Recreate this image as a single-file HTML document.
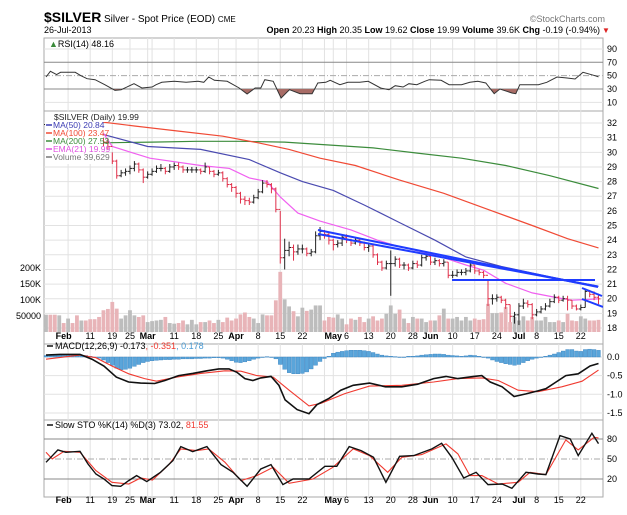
<!DOCTYPE html>
<html><head><meta charset="utf-8"><style>
html,body{margin:0;padding:0;background:#fff;}
svg{display:block;font-family:"Liberation Sans",sans-serif;}
</style></head><body>
<svg id="chart" width="627" height="515" viewBox="0 0 627 515" xmlns="http://www.w3.org/2000/svg">
<g>
<text x="44" y="22" font-size="14" font-weight="bold">$SILVER</text>
<text x="104" y="22" font-size="10">Silver - Spot Price (EOD) <tspan font-size="8">CME</tspan></text>
<text x="605" y="22" font-size="9" fill="#777" text-anchor="end">©StockCharts.com</text>
<text x="44" y="33" font-size="9">26-Jul-2013</text>
<text x="600" y="33" font-size="9" text-anchor="end"><tspan font-weight="bold">Open</tspan> 20.23 <tspan font-weight="bold">High</tspan> 20.35 <tspan font-weight="bold">Low</tspan> 19.62 <tspan font-weight="bold">Close</tspan> 19.99 <tspan font-weight="bold">Volume</tspan> 39.6K <tspan font-weight="bold">Chg</tspan> -0.19 (-0.94%)</text>
<text x="602" y="33" font-size="8" fill="#d22">▼</text>
</g>
<g id="grid"></g>
<g id="marks"></g>
<g id="labels"></g>
</svg>
<script>
// ===== data =====
const monthLabels = ["Feb","11","19","25","Mar","11","18","25","Apr","8","15","22","May","6","13","20","28","Jun","10","17","24","Jul","8","15","22"];
const labelDays = [4,10,15,19,23,29,34,39,43,48,53,58,65,68,73,78,83,87,92,97,102,107,111,116,121];
const gridDays = [5,10,15,19,23,24,29,34,39,43,48,53,58,63,65,68,73,78,83,87,92,97,102,107,111,116,121];
const closes = [31.9,31.8,31.7,31.9,31.6,31.8,31.5,31.4,31.6,31.3,31.2,31.0,30.9,30.7,
30.4,29.4,28.4,28.6,28.7,28.9,29.2,28.8,28.3,28.5,
28.7,28.9,28.9,28.7,29.0,29.1,29.0,28.8,28.8,28.8,
28.8,28.7,29.0,28.7,28.5,28.6,28.2,27.8,27.6,27.2,
26.8,26.7,26.6,26.9,27.3,27.9,27.8,27.5,26.1,22.8,
23.3,23.5,23.2,23.4,23.4,23.1,23.2,24.3,24.6,24.4,
24.0,23.7,23.8,24.2,24.0,23.8,24.0,23.8,23.5,23.6,
23.0,22.5,22.1,22.4,22.4,22.7,22.3,22.3,22.1,22.4,
22.3,22.8,22.9,22.5,22.6,22.4,22.5,21.6,21.6,21.8,
21.8,21.9,22.3,21.9,21.8,21.6,20.0,20.0,20.1,19.9,
19.6,18.8,18.9,19.5,19.7,19.6,18.9,19.1,19.3,19.5,
19.8,20.1,19.9,20.0,19.9,19.5,19.3,19.4,20.5,20.3,
20.1,19.99];
const highs = [32.2,32.1,32.0,32.2,31.9,32.1,31.8,31.7,31.9,31.6,31.5,31.3,31.2,31.0,
30.9,30.0,29.5,28.8,28.9,29.1,29.4,29.3,28.9,28.7,
28.9,29.1,29.2,29.0,29.2,29.3,29.3,29.1,29.0,29.0,
29.0,28.9,29.3,29.0,28.8,28.8,28.7,28.3,27.9,27.7,
27.3,27.0,26.9,27.1,27.5,28.1,28.1,27.9,27.6,26.0,
24.1,23.9,23.7,23.7,23.7,23.5,23.4,24.6,24.9,24.7,
24.5,24.1,24.0,24.4,24.4,24.1,24.2,24.1,23.9,23.8,
23.7,23.1,22.6,22.6,23.3,22.9,22.8,22.5,22.4,22.6,
22.6,23.0,23.1,23.0,22.8,22.7,22.7,22.5,21.9,22.0,
22.0,22.1,22.6,22.3,22.0,21.9,21.3,20.3,20.3,20.2,
20.0,19.6,19.1,19.7,20.0,19.9,19.7,19.3,19.5,19.7,
20.0,20.3,20.2,20.2,20.2,19.9,19.6,19.6,20.7,20.6,
20.5,20.35];
const lows = [31.6,31.5,31.4,31.6,31.3,31.5,31.2,31.1,31.3,31.0,30.9,30.7,30.6,30.4,
30.2,29.2,28.2,28.3,28.4,28.5,28.7,28.6,27.9,28.2,
28.4,28.6,28.7,28.5,28.6,28.8,28.8,28.6,28.6,28.6,
28.6,28.5,28.6,28.5,28.3,28.4,28.0,27.6,27.3,26.9,
26.5,26.4,26.4,26.5,26.8,27.2,27.6,27.2,25.9,22.4,
22.0,22.9,22.6,23.0,23.1,22.9,22.9,23.1,24.0,24.1,
23.7,23.3,23.5,23.6,23.8,23.6,23.7,23.6,23.3,23.2,
22.8,22.3,21.9,22.0,20.2,22.2,22.1,22.0,21.9,22.0,
22.1,22.2,22.6,22.3,22.3,22.2,22.2,21.4,21.4,21.5,
21.6,21.6,21.8,21.7,21.6,21.4,19.5,19.6,19.8,19.7,
19.3,18.4,18.3,18.2,19.3,19.4,18.6,18.8,19.0,19.2,
19.4,19.7,19.7,19.8,19.2,19.3,19.2,19.2,19.4,20.1,
19.9,19.62];
const volumesK = [54,54,54,52,28,42,28,52,36,36,40,40,47,68,72,94,73,42,52,68,
52,47,52,31,34,36,38,47,28,26,28,36,24,38,24,31,31,36,28,38,
31,45,36,42,55,61,47,42,28,55,52,52,99,188,102,80,65,49,76,66,
70,83,83,36,47,45,55,42,24,42,38,47,31,42,49,36,42,57,83,57,
70,42,28,47,42,42,31,36,36,52,73,42,42,47,36,47,36,42,38,40,
88,59,59,61,78,31,47,36,49,36,47,36,36,47,31,31,36,31,57,36,
34,49,42,36,36,38];
const ma50Days = [12,23,35,46,53,58,65,72,80,88,95,103,114,125];
const ma50Vals = [31.3,30.4,30.2,29.5,28.6,28.0,27.4,26.4,25.2,24.0,22.85,22.2,21.5,20.84];
const ma100Days = [12,20,30,40,48,55,62,70,80,90,100,110,118,125];
const ma100Vals = [32.1,31.8,31.45,31.1,30.65,30.2,29.6,29.1,28.1,27.2,26.1,25.0,24.1,23.47];
const ma200Days = [13,24,34,44,54,64,74,84,94,104,114,125];
const ma200Vals = [30.65,30.7,30.75,30.75,30.7,30.5,30.3,29.95,29.6,29.1,28.4,27.53];
const emaDays = [13,15,23.5,35,41.5,46,50,53,57,62,69,75,80,88,95,99,104,110,116,119,125];
const emaVals = [31.3,30.4,29.6,29.1,28.9,28.25,28.0,26.95,25.85,25.3,24.7,24.0,23.55,23.0,22.3,21.95,21.05,20.4,20.05,19.9,19.99];
const rsiDays = [0,1,2.4,3.3,6.6,7.9,9.3,11.1,13.3,15.6,17,19.9,21.7,24,24.9,26.2,29,31.7,34.4,35.7,36.8,38.1,41,43.7,45.5,47.3,48.6,49.5,51.4,53.2,55.1,57.5,60.2,61.5,63.3,64.3,66.5,68.3,71,72.9,75.7,77.6,79,80.8,82.1,83.9,85.7,86.7,89.4,91.2,94,95.9,97.7,99.5,101.4,102.7,105.4,106.3,107.2,109.5,111.4,113.3,115.6,117.9,119.7,121.5,124.2,125];
const rsiVals = [48,56.5,51.5,55,55,50,45.5,44,36.5,28,29,38,31.5,33,36.5,40,41.5,40,41.5,40,48,43,41.5,31.5,22.5,31.5,31.5,44,41.5,16.5,29,23,23,39,40,43,36.5,40,40,41.5,31.5,29,35,33,38,36.5,41.5,44,43,36.5,36.5,40,41.5,39,23,30,24,23,36.5,36.5,36.5,40,48,46.5,45,55,50,48.16];
const macdDays = [0,3.2,7.7,10.4,13.1,15.9,18.7,21.4,24.6,26.9,30,33.2,36.4,39.1,41.4,43.2,45,46.8,48.6,50.9,52.7,54.1,56.8,59.5,61.3,64,66.7,69.5,73.2,76.8,80.5,84.1,87.7,90.5,93.2,96.8,98.6,100.5,103.2,105.9,108.6,111.3,113.1,115.4,117.6,120.4,123.1,125];
const macdVals = [0.05,0.07,0.07,-0.06,-0.24,-0.54,-0.67,-0.70,-0.71,-0.63,-0.50,-0.44,-0.37,-0.32,-0.32,-0.41,-0.58,-0.63,-0.56,-0.52,-0.76,-1.15,-1.41,-1.52,-1.28,-1.11,-0.89,-0.76,-0.70,-0.80,-0.80,-0.73,-0.58,-0.52,-0.58,-0.52,-0.50,-0.67,-0.80,-1.06,-0.99,-0.91,-0.85,-0.67,-0.50,-0.45,-0.24,-0.173];
const signalDays = [0,7.7,11.3,14.9,18.7,22.3,25,29.6,35,40.5,44.1,47.7,51.4,55,59.5,62.2,67.6,73.2,80.5,87.7,93.2,98.6,102.3,106.8,111.3,116.7,121.3,125];
const signalVals = [-0.06,0.05,-0.02,-0.24,-0.45,-0.58,-0.65,-0.54,-0.44,-0.37,-0.38,-0.50,-0.54,-0.89,-1.31,-1.24,-0.98,-0.78,-0.76,-0.67,-0.58,-0.56,-0.63,-0.89,-0.93,-0.80,-0.65,-0.351];
const histVals = [0.04,0.05,0.06,0.07,0.07,0.06,0.06,0.05,0.05,0.04,
0.02,0,-0.03,-0.08,
-0.15,-0.22,-0.3,-0.34,-0.33,-0.3,-0.25,-0.2,-0.15,
-0.12,-0.1,-0.09,-0.08,-0.07,-0.07,-0.06,-0.06,-0.05,-0.05,-0.05,-0.04,-0.04,-0.03,-0.03,-0.02,-0.02,-0.03,
-0.06,-0.1,-0.14,-0.15,-0.13,-0.1,-0.06,
-0.03,-0.01,0.01,0.0,-0.05,
-0.2,-0.33,-0.42,-0.45,-0.45,-0.44,-0.4,-0.32,-0.22,-0.12,
-0.04,0.02,
0.1,0.13,0.15,0.17,0.18,0.18,0.18,0.17,0.15,0.12,0.08,
0.05,0.03,0.02,0.01,0.0,0.0,0.02,0.02,
0.03,0.05,0.06,0.07,0.08,0.08,0.07,0.05,0.04,0.03,0.02,0.03,0.05,0.04,0.02,0.0,-0.03,
-0.08,-0.12,-0.15,-0.18,-0.2,-0.22,-0.2,-0.15,-0.1,-0.06,
-0.03,0.0,0.02,0.05,0.08,
0.12,0.16,0.2,0.2,0.16,0.15,0.2,0.21,0.2,0.178];
const stoKDays = [0,2.7,4.5,7.7,9.5,11.3,13.1,14.9,16.9,18.7,20.5,22.8,25.9,28.7,30.5,33.2,36.4,39.6,42.3,45.5,48.6,50.9,53.6,55.9,59.5,63.1,65.8,68.6,71.3,74.1,76.9,80,83.2,87.3,89.5,91.8,94.5,97.3,100,103.2,105.4,108.6,111.3,113.1,116.3,118.6,120.4,123.5,125];
const stoKVals = [45,63.5,60,61.5,42.5,27.5,20,10,9,17.5,25,16,30,47.5,68.5,61,68.5,41.5,30,9,35,41.5,11.5,20,20,39,39,68.5,62.5,52.5,15,54,55,65,73.5,52.5,21.5,30,11.5,12.5,6,30,27.5,26.5,85,80,55,88.5,73.02];
const stoDDays = [0,1.4,4.1,7.7,11.3,14.9,18.7,21.4,24.1,27.8,30.5,34.1,36.8,40.5,44.1,47.7,51.4,55,60.4,64.9,69.5,73.2,77.3,80.5,85,90.5,93.2,95.9,98.6,102.3,106.8,109.5,113.1,117.6,120.4,124,125];
const stoDVals = [60,50,61.5,60,32.5,15,12.5,21.5,18.5,41.5,65,62.5,65,45,17.5,25,37.5,13.5,20,37.5,65,55,30,52.5,56.5,72.5,57.5,25,25,12.5,15,30,26.5,78.5,63.5,82.5,81.55];
const priceTicks = [18,19,20,21,22,23,24,25,26,27,28,29,30,31,32];
const volTicks = [50000,100000,150000,200000];
const volTickLabels = ["50000","100K","150K","200K"];
const rsiTicks = [10,30,50,70,90];
const macdTicks = [0,-0.5,-1.0,-1.5];
const macdTickLabels = ["0.0","-0.5","-1.0","-1.5"];
const stoTicks = [20,50,80];

// ===== scales =====
const L=44, R=603;
const X = i => 46 + i*4.42;
const Py = p => 328 - (p-18)*14.64;
const Vy = v => 332 - v/50000*16;
const Ry = v => 109 - v*0.667;
const My = v => 357 - v*37.3;
const Sy = v => 492.3 - v*0.667;
const NS="http://www.w3.org/2000/svg";
const grid=document.getElementById('grid'), marks=document.getElementById('marks'), labels=document.getElementById('labels');
function mk(tag, attrs, parent){const e=document.createElementNS(NS,tag);for(const k in attrs)e.setAttribute(k,attrs[k]);parent.appendChild(e);return e;}
function poly(days, vals, fy){return days.map((d,k)=>X(d).toFixed(1)+','+fy(vals[k]).toFixed(1)).join(' ');}

const panels=[["rsi-panel",38,111],["price-panel",111,344],["macd-panel",344,420],["sto-panel",420,497]];
panels.forEach(p=>{
  const r=mk('rect',{x:L,y:p[1],width:R-L,height:p[2]-p[1],fill:'#fff',stroke:'#aaa','stroke-width':1},grid);
  
  
});
[[38,111],[111,333],[344,420],[420,497]].forEach(r=>{
  gridDays.forEach(d=>{
    const l=mk('line',{x1:X(d),x2:X(d),y1:r[0],y2:r[1],stroke:'#e2e2e2','stroke-width':1},grid);
    
    
  });
});
priceTicks.forEach(t=>{
  const l=mk('line',{x1:L,x2:R,y1:Py(t),y2:Py(t),stroke:'#e2e2e2'},grid);
  
  
  const tx=mk('text',{x:607,y:Py(t)+3,'font-size':9},labels); tx.textContent=t;
  
  
});
volTicks.forEach((t,k)=>{
  const tx=mk('text',{x:41,y:Vy(t)+3,'font-size':9,'text-anchor':'end'},labels); tx.textContent=volTickLabels[k];
  
  
});
rsiTicks.forEach(t=>{
  const strong=(t===30||t===70);
  const l=mk('line',{x1:L,x2:R,y1:Ry(t),y2:Ry(t),stroke:strong?'#888':(t===50?'#aaa':'#e2e2e2'),'stroke-dasharray':t===50?'6,2,1,2':'none'},grid);
  
  
  const tx=mk('text',{x:607,y:Ry(t)+3,'font-size':9},labels); tx.textContent=t;
  
  
});
macdTicks.forEach((t,k)=>{
  const l=mk('line',{x1:L,x2:R,y1:My(t),y2:My(t),stroke:'#e2e2e2'},grid);
  
  
  const tx=mk('text',{x:607,y:My(t)+3,'font-size':9},labels); tx.textContent=macdTickLabels[k];
  
  
});
stoTicks.forEach(t=>{
  const l=mk('line',{x1:L,x2:R,y1:Sy(t),y2:Sy(t),stroke:t===50?'#aaa':'#888','stroke-dasharray':t===50?'6,2,1,2':'none'},grid);
  
  
  const tx=mk('text',{x:607,y:Sy(t)+3,'font-size':9},labels); tx.textContent=t;
  
  
});
[339,503].forEach(yy=>{
  labelDays.forEach((d,k)=>{
    const bold=isNaN(+monthLabels[k]);
    const tx=mk('text',{x:X(d),y:yy,'font-size':9,'text-anchor':'middle','font-weight':bold?'bold':'normal'},labels);
    tx.textContent=monthLabels[k];
    
    
  });
});

const defs=mk('defs',{},marks);
const cp=mk('clipPath',{id:'pclip'},defs); mk('rect',{x:L,y:111,width:R-L,height:222},cp);
const rc=mk('clipPath',{id:'rclip'},defs); mk('rect',{x:L,y:Ry(30),width:R-L,height:111-Ry(30)},rc);
const pg=mk('g',{'clip-path':'url(#pclip)'},marks);

volumesK.forEach((v,i)=>{
  const down=i>0&&closes[i]<closes[i-1];
  const y=Vy(v*1000);
  const b=mk('rect',{x:X(i)-1.9,y:y,width:3.8,height:332-y,fill:down?'#e8b4b8':'#bdbdbd'},pg);
  
  
});
[[ma200Days,ma200Vals,'#3c8c3c','ma200-line'],[ma100Days,ma100Vals,'#f04a35','ma100-line'],[ma50Days,ma50Vals,'#4a4ab0','ma50-line'],[emaDays,emaVals,'#f060f0','ema21-line']].forEach(s=>{
  const l=mk('polyline',{points:poly(s[0],s[1],Py),fill:'none',stroke:s[2],'stroke-width':1.2},pg);
  
  
});
closes.forEach((c,i)=>{
  const o=i>0?closes[i-1]:c;
  const col=(i>0&&c<closes[i-1])?'#e0304a':'#222';
  const g=mk('g',{stroke:col,'stroke-width':1},pg);
  
  
  const x=X(i);
  mk('line',{x1:x,x2:x,y1:Py(highs[i]),y2:Py(lows[i])},g);
  mk('line',{x1:x-2,x2:x,y1:Py(o),y2:Py(o)},g);
  mk('line',{x1:x,x2:x+2,y1:Py(c),y2:Py(c)},g);
});
[[318,230,598,287],[318,234,598,286.5],[452,280,595,280],[582,288,602,296],[582,299,603,307]].forEach(t=>{
  const l=mk('line',{x1:t[0],y1:t[1],x2:t[2],y2:t[3],stroke:'#1f3cff','stroke-width':2},pg);
  
  
});
mk('rect',{x:L+1,y:112,width:102,height:10,fill:'#fff'},marks);
mk('rect',{x:L+1,y:122,width:58,height:42,fill:'#fff'},marks);
const leg=[["$SILVER (Daily) 19.99","#222","legend-price"],["MA(50) 20.84","#3b3bb3","legend-ma50"],["MA(100) 23.47","#f04a35","legend-ma100"],["MA(200) 27.53","#3c8c3c","legend-ma200"],["EMA(21) 19.99","#e050e0","legend-ema21"],["Volume 39,629","#777","legend-volume"]];
leg.forEach((e,k)=>{
  const y=120+k*8;
  if(k>0){mk('line',{x1:46,x2:52,y1:y-3,y2:y-3,stroke:e[1],'stroke-width':1.5},marks);}
  const tx=mk('text',{x:k===0?54:53,y:y,'font-size':8.5,fill:e[1]},marks); tx.textContent=e[0];
  
  
});

const rsiPts=poly(rsiDays,rsiVals,Ry);
const fill=mk('polygon',{points:X(0)+','+Ry(30)+' '+rsiPts+' '+X(125)+','+Ry(30),fill:'#a86c66','clip-path':'url(#rclip)'},marks);


const rl=mk('polyline',{points:rsiPts,fill:'none',stroke:'#333','stroke-width':1},marks);



histVals.forEach((h,i)=>{
  const y0=My(0), y1=My(h);
  const b=mk('rect',{x:X(i)-1.9,y:Math.min(y0,y1),width:3.8,height:Math.max(0.5,Math.abs(y1-y0)),fill:'#5aa5da',stroke:'#3580bf','stroke-width':0.4},marks);
  
  
});
const sl=mk('polyline',{points:poly(signalDays,signalVals,My),fill:'none',stroke:'#f03a30','stroke-width':1.1},marks);


const ml=mk('polyline',{points:poly(macdDays,macdVals,My),fill:'none',stroke:'#111','stroke-width':1.6},marks);



const dl=mk('polyline',{points:poly(stoDDays,stoDVals,Sy),fill:'none',stroke:'#f03a30','stroke-width':1.1},marks);


const kl=mk('polyline',{points:poly(stoKDays,stoKVals,Sy),fill:'none',stroke:'#111','stroke-width':1.4},marks);



let t=mk('text',{x:49,y:47,'font-size':9},labels);
t.innerHTML='<tspan fill="#3a8a3a">▲</tspan>RSI(14) 48.16';


mk('line',{x1:47,x2:53,y1:346,y2:346,stroke:'#111','stroke-width':1.5},labels);
t=mk('text',{x:55,y:349,'font-size':9},labels);
t.innerHTML='MACD(12,26,9) -0.173<tspan fill="#f03a30">, -0.351</tspan><tspan fill="#4a9bd4">, 0.178</tspan>';


mk('line',{x1:47,x2:53,y1:425,y2:425,stroke:'#111','stroke-width':1.5},labels);
t=mk('text',{x:55,y:428,'font-size':9},labels);
t.innerHTML='Slow STO %K(14) %D(3) 73.02, <tspan fill="#f03a30">81.55</tspan>';


</script>
</body></html>
